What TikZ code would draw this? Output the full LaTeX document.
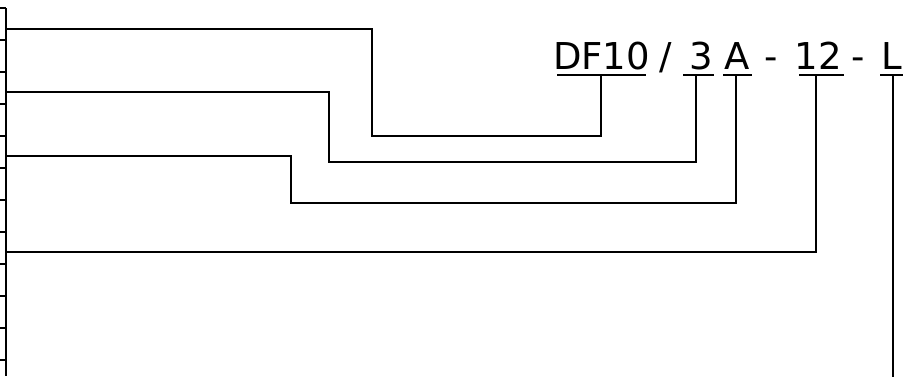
\documentclass[tikz,border=0pt]{standalone}
\usepackage{fontspec}
\setmainfont{DejaVu Sans}
\usetikzlibrary{positioning}

\begin{document}
\begin{tikzpicture}[
  x=0.5pt,y=-0.5pt,
  line width=1.4pt,
  font=\fontsize{18.5}{21}\selectfont,
  part/.style={inner sep=0pt,anchor=base},
  link/.style={line width=1.4pt,line cap=rect}
]
\useasboundingbox (0,0) rectangle (903,376);

% scale bar on the left
\draw (6,8) -- (6,376);
\foreach \i in {0,...,11}
  \draw (0,8+32*\i) -- (6,8+32*\i);

% code parts
\node[part] (series) at (601.5,69) {DF10};
\node[part] (slash) at (666,69) {/};
\node[part] (size) at (701,69) {3};
\node[part] (kind) at (737.5,69) {A};
\node[part] (dashA) at (771,69) {-};
\node[part] (len) at (818,69) {12};
\node[part] (dashB) at (858,69) {-};
\node[part] (side) at (892,69) {L};

% underlines
\foreach \a/\b in {557/646,683/714,723/752,799/844,880/903}
  \draw (\a,75) -- (\b,75);

\coordinate (tseries) at (601,75);
\coordinate (tsize) at (696,75);
\coordinate (tkind) at (736,75);
\coordinate (tlen) at (816,75);
\coordinate (tside) at (893,75);
\coordinate (bside) at (893,376);

\coordinate (bar1) at (6,29);
\coordinate (bar2) at (6,92);
\coordinate (bar3) at (6,156);
\coordinate (bar4) at (6,252);

\draw[link] (bar1) -| (372,136) -| (tseries);
\draw[link] (bar2) -| (329,162) -| (tsize);
\draw[link] (bar3) -| (291,203) -| (tkind);
\draw[link] (bar4) -| (tlen);
\draw[link] (tside) -- (bside);
\end{tikzpicture}
\end{document}
